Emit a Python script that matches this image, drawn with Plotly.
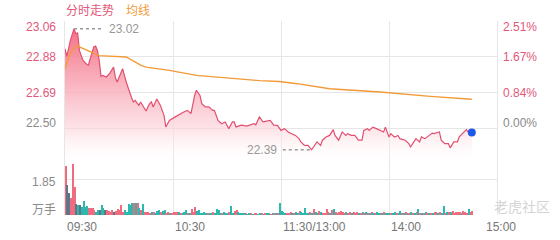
import plotly.graph_objects as go

# ---------------- data ----------------
price_minutes = [0, 1, 3, 5, 6, 7, 8, 10, 12, 13, 14, 16, 17, 18, 19, 20, 21, 23, 25, 27, 28, 29, 32, 33, 34,
                 37, 38, 39, 41, 42, 44, 45, 47, 48, 49, 51, 53, 55, 56, 58, 61, 64, 66, 68, 70, 72, 73,
                 75, 76, 78, 80, 82, 83, 85, 87, 89, 91, 93, 94, 95, 98, 101, 103, 105, 106, 108, 110, 112,
                 114, 116, 118,
                 120, 122, 124, 126, 128, 130, 131, 133, 135, 137, 138, 140, 142, 143, 145, 147, 149, 150,
                 152, 154, 156, 157, 159, 161, 163, 165, 166, 168, 169, 171, 173, 175, 177, 178, 180, 181,
                 183, 185, 186, 189, 191, 192, 194, 195, 197, 198, 200, 202, 204, 205, 208, 209, 211, 213,
                 214, 216, 218, 219, 221, 223, 224, 226]
price_values = [22.916, 22.876, 22.959, 23.02, 22.994, 22.998, 22.907, 22.855, 22.835, 22.83, 22.864, 22.925,
                22.93, 22.907, 22.855, 22.772, 22.777, 22.769, 22.79, 22.82, 22.765, 22.743, 22.812, 22.777,
                22.743, 22.661, 22.639, 22.647, 22.621, 22.639, 22.604, 22.592, 22.63, 22.639, 22.613,
                22.654, 22.621, 22.569, 22.509, 22.543, 22.56, 22.578, 22.587, 22.595, 22.578, 22.673,
                22.70, 22.673, 22.63, 22.613, 22.613, 22.595, 22.595, 22.543, 22.526, 22.535, 22.50,
                22.535, 22.535, 22.509, 22.518, 22.513, 22.518, 22.526, 22.52, 22.561, 22.535, 22.54,
                22.543, 22.518, 22.517,
                22.491, 22.50, 22.483, 22.474, 22.465, 22.448, 22.431, 22.413, 22.413, 22.39, 22.405,
                22.431, 22.413, 22.44, 22.457, 22.465, 22.495, 22.465, 22.44, 22.483, 22.465, 22.474,
                22.465, 22.465, 22.44, 22.44, 22.491, 22.50, 22.491, 22.508, 22.50, 22.491, 22.483,
                22.508, 22.457, 22.474, 22.457, 22.465, 22.448, 22.44, 22.422, 22.405, 22.431, 22.448,
                22.431, 22.457, 22.448, 22.465, 22.477, 22.474, 22.483, 22.44, 22.422, 22.422, 22.40,
                22.431, 22.431, 22.457, 22.477, 22.495, 22.483, 22.48]

avg_minutes = [0, 2, 4, 7, 8, 19, 34, 42, 45, 58, 73, 94, 108, 119, 129, 147, 175, 203, 226]
avg_values = [22.812, 22.87, 22.91, 22.933, 22.925, 22.88, 22.873, 22.83, 22.82, 22.803, 22.777, 22.76,
              22.75, 22.745, 22.734, 22.708, 22.691, 22.668, 22.653]

# volume per minute (万手) and direction: r=up, g=down, n=flat
volume = [2.59, 1.59, 1.15, 0.88, 2.70, 1.50, 0.56, 0.53, 0.53, 0.44, 0.74, 0.44, 0.50, 0.35, 0.35, 0.35,
          0.26, 0.18, 0.26, 0.26, 0.53, 0.35, 0.26, 0.26, 0.23, 0.18, 0.26, 0.18, 0.23, 0.30, 0.26, 0.53,
          0.18, 0.26, 0.18, 0.58, 0.53, 0.62, 0.62, 0.62, 0.62, 0.35, 0.26, 0.58, 0.18, 0.18,
          0.15, 0.12, 0.18, 0.15, 0.12, 0.20, 0.26, 0.15, 0.20, 0.26, 0.12, 0.15, 0.10, 0.12, 0.15, 0.15,
          0.18, 0.15, 0.10, 0.12, 0.15, 0.26, 0.12, 0.10, 0.30, 0.15, 0.40, 0.20, 0.26,
          0.12, 0.10, 0.15, 0.08, 0.10, 0.12, 0.08, 0.15, 0.10, 0.30, 0.26, 0.10, 0.12, 0.15, 0.08, 0.10,
          0.15, 0.49, 0.12, 0.20, 0.26, 0.15, 0.10, 0.08, 0.10, 0.08, 0.06, 0.08, 0.10, 0.06, 0.08, 0.10,
          0.06, 0.08, 0.10, 0.06, 0.08, 0.10, 0.08, 0.06, 0.10, 0.08, 0.12, 0.10, 0.65,
          0.20, 0.15, 0.10, 0.12, 0.10, 0.15, 0.12, 0.10, 0.15, 0.12, 0.20, 0.15, 0.12, 0.37, 0.12, 0.10,
          0.15, 0.12, 0.30, 0.15, 0.12, 0.20, 0.15, 0.10, 0.12, 0.30, 0.15, 0.12, 0.25, 0.30, 0.15, 0.12,
          0.15, 0.20, 0.15, 0.12, 0.18, 0.12, 0.15, 0.10, 0.15, 0.12, 0.18, 0.12, 0.10, 0.15, 0.12, 0.15,
          0.10, 0.12, 0.15, 0.10, 0.12, 0.15, 0.10, 0.12, 0.10, 0.15, 0.12, 0.10, 0.12,
          0.10, 0.12, 0.15, 0.10, 0.12, 0.20, 0.10, 0.12, 0.15, 0.10, 0.12, 0.15, 0.10, 0.12, 0.15, 0.30,
          0.12, 0.10, 0.12, 0.15, 0.10, 0.12, 0.10, 0.12, 0.15, 0.18, 0.12, 0.15, 0.10, 0.47, 0.12, 0.15,
          0.18, 0.15, 0.20, 0.12, 0.15, 0.18, 0.15, 0.12, 0.20, 0.15, 0.12, 0.32, 0.15, 0.20]
direction = list("rnnrrrngngggg" "rrrrggn" "gg" "n" "rrrr" "n" "rrrrr" "gggggrgrgrgrr"
                 "rrgrggg" "rggrrgrrrrgrgggrgrrrg"
                 "gggggrggrggggrgggrggrrggggrggrgrrggrgrggrgrgrgggg"
                 "rrrgrggrgggggrgrggrgrrrrgrgrrrrrrgrrgrrrgrgrgrgrgrggrgrgggrggr"
                 "ggrgrgrgrgrgrgrgrgrgrrgrggrgrgrrrrrgrrrgrrgggg")
direction = (direction + ["r"] * len(volume))[:len(volume)]
vol_minutes = list(range(len(volume)))

time_tickvals = [0, 60, 120, 180, 240]
time_ticktext = ["09:30", "10:30", "11:30/13:00", "14:00", "15:00"]
price_tickvals = [22.50, 22.6867, 22.8733, 23.06]
price_ticktext = ["22.50", "22.69", "22.88", "23.06"]
pct_ticktext = ["0.00%", "0.84%", "1.67%", "2.51%"]
vol_tickvals = [1.85]
vol_ticktext = ["1.85"]

# ---------------- style ----------------
RED = "#e2506f"
LABEL_RED = "#e2587a"
ORANGE = "#f29a38"
GRID = "#e6e6e6"
GRAY = "#8a8a8a"
FONT = "Liberation Sans, Arial, Noto Sans CJK SC, sans-serif"
bar_colors = {"r": "#f06a80", "g": "#2cb8ae", "n": "#607585"}

price_lo, price_hi = 22.311, 23.06

fig = go.Figure()

# baseline for gradient fill
fig.add_trace(go.Scatter(x=[0, price_minutes[-1]], y=[price_lo, price_lo], mode="lines",
                         line=dict(width=0), hoverinfo="skip", showlegend=False,
                         xaxis="x", yaxis="y"))
fig.add_trace(go.Scatter(
    x=price_minutes, y=price_values, mode="lines",
    line=dict(color=RED, width=1.2), fill="tonexty",
    fillgradient=dict(type="vertical", start=price_lo, stop=price_hi,
                      colorscale=[[0, "rgba(255,255,255,0)"], [0.25, "rgba(252,215,222,0.7)"],
                                  [0.6, "rgba(248,160,175,0.85)"], [1, "rgba(240,95,118,0.95)"]]),
    showlegend=False, xaxis="x", yaxis="y"))
fig.add_trace(go.Scatter(x=avg_minutes, y=avg_values, mode="lines",
                         line=dict(color=ORANGE, width=1.4), showlegend=False,
                         xaxis="x", yaxis="y"))
fig.add_trace(go.Scatter(x=[price_minutes[-1]], y=[price_values[-1]], mode="markers",
                         marker=dict(color="#1f57e8", size=8), showlegend=False,
                         xaxis="x", yaxis="y"))

# high / low markers
hi_i = max(range(len(price_values)), key=lambda i: price_values[i])
lo_i = min(range(len(price_values)), key=lambda i: price_values[i])
hx, hy = price_minutes[hi_i], price_values[hi_i]
lx, ly = price_minutes[lo_i], price_values[lo_i]
fig.add_trace(go.Scatter(x=[hx, hx + 16], y=[hy, hy], mode="lines",
                         line=dict(color="#9a9a9a", width=1.5, dash="3px,3px"),
                         showlegend=False, xaxis="x", yaxis="y"))
fig.add_trace(go.Scatter(x=[lx - 16, lx], y=[ly, ly], mode="lines",
                         line=dict(color="#9a9a9a", width=1.5, dash="3px,3px"),
                         showlegend=False, xaxis="x", yaxis="y"))

fig.add_trace(go.Bar(x=vol_minutes, y=volume, marker_color=[bar_colors[d] for d in direction],
                     marker_line_width=0, width=0.7, offset=0, showlegend=False,
                     xaxis="x2", yaxis="y2"))

annotations = []
# left price labels
shifts = {0: 5.5, 3: -5.5}
for i, (v, t) in enumerate(zip(price_tickvals, price_ticktext)):
    col = GRAY if i == 0 else LABEL_RED
    ys = shifts.get(i, 0)
    annotations.append(dict(x=0, y=v, xref="x", yref="y", text=t, showarrow=False,
                            xanchor="right", yanchor="middle", xshift=-7, yshift=ys,
                            font=dict(size=12, color=col, family=FONT)))
    annotations.append(dict(x=240, y=v, xref="x", yref="y", text=pct_ticktext[i], showarrow=False,
                            xanchor="left", yanchor="middle", xshift=4, yshift=ys,
                            font=dict(size=12, color=col, family=FONT)))
for v, t in zip(vol_tickvals, vol_ticktext):
    annotations.append(dict(x=0, y=v, xref="x2", yref="y2", text=t, showarrow=False,
                            xanchor="right", yanchor="middle", xshift=-7, yshift=-2,
                            font=dict(size=12, color=GRAY, family=FONT)))
annotations.append(dict(x=0, y=0, xref="x2", yref="y2", text="万手", showarrow=False,
                        xanchor="right", yanchor="middle", xshift=-7, yshift=5,
                        font=dict(size=12, color=GRAY, family=FONT)))
# time labels
for v, t in zip(time_tickvals, time_ticktext):
    xa = "left"
    xs = 0 if v < 240 else -13
    annotations.append(dict(x=v, y=-0.062, xref="x", yref="paper", text=t, showarrow=False,
                            xanchor=xa, yanchor="middle", xshift=xs,
                            font=dict(size=12, color="#777777", family=FONT)))
# high / low texts
annotations.append(dict(x=hx + 16, y=hy, xref="x", yref="y", text=f"{hy:.2f}", showarrow=False,
                        xanchor="left", yanchor="middle", xshift=4,
                        font=dict(size=12, color="#999999", family=FONT)))
annotations.append(dict(x=lx - 16, y=ly, xref="x", yref="y", text=f"{ly:.2f}", showarrow=False,
                        xanchor="right", yanchor="middle", xshift=-4,
                        font=dict(size=12, color="#999999", family=FONT)))
# title
annotations.append(dict(x=0, y=1.053, xref="paper", yref="paper", text="分时走势", showarrow=False,
                        xanchor="left", yanchor="middle", xshift=-1,
                        font=dict(size=12, color=LABEL_RED, family=FONT)))
annotations.append(dict(x=0, y=1.053, xref="paper", yref="paper", text="均线", showarrow=False,
                        xanchor="left", yanchor="middle", xshift=59,
                        font=dict(size=12, color=ORANGE, family=FONT)))
# watermark
annotations.append(dict(x=1.0, y=0.04, xref="paper", yref="paper", text="老虎社区", showarrow=False,
                        xanchor="left", yanchor="middle", xshift=-5,
                        font=dict(size=14, color="#d4d4d4", family=FONT)))

axis_common = dict(range=[0, 240], tickvals=time_tickvals, showticklabels=False,
                   showgrid=True, gridcolor=GRID, gridwidth=1, zeroline=False, fixedrange=True)
fig.update_layout(
    width=560, height=240,
    margin=dict(l=65, r=63, t=21, b=25),
    paper_bgcolor="white", plot_bgcolor="rgba(0,0,0,0)",
    xaxis=dict(**axis_common, anchor="y"),
    xaxis2=dict(**axis_common, anchor="y2", matches="x"),
    yaxis=dict(domain=[0.2577, 1], range=[price_lo, price_hi], tickvals=price_tickvals,
               showticklabels=False, showgrid=True, gridcolor=GRID, zeroline=False,
               showline=True, linecolor=GRID, mirror=True),
    yaxis2=dict(domain=[0, 0.2887], range=[0, 2.96], tickvals=vol_tickvals, showticklabels=False,
                showgrid=True, gridcolor=GRID, zeroline=False,
                showline=True, linecolor=GRID, mirror=True),
    bargap=0,
    annotations=annotations,
    font=dict(family=FONT),
)

fig.write_html("out.html")
